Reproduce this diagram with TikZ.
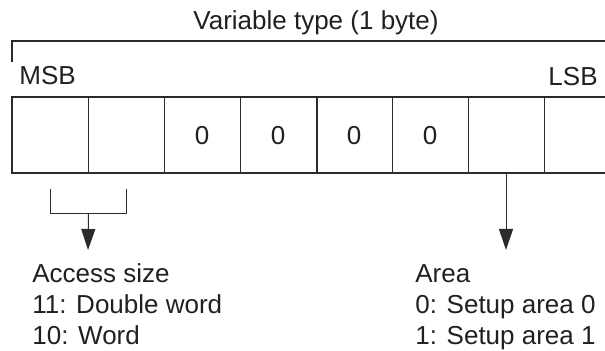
\documentclass[tikz,border=0pt]{standalone}
\usepackage{fontspec}
\setmainfont{Liberation Sans}
\usetikzlibrary{arrows.meta}
\definecolor{inkgray}{RGB}{35,31,32}
\definecolor{linegray}{RGB}{40,44,44}
\tikzset{
  bitcell/.style={draw=linegray,line width=0.5pt,minimum width=38pt,minimum height=37.5pt,inner sep=0pt,text=inkgray,font=\fontsize{13}{15.5}\selectfont},
  lbl/.style={inner sep=0pt,text=inkgray,font=\fontsize{13}{15.5}\selectfont},
  pointer/.style={draw=linegray,line width=0.5pt,-{Triangle[length=10.5pt,width=7pt]}}
}
\begin{document}
\begin{tikzpicture}[x=0.5pt,y=-0.5pt]
\useasboundingbox (0,0) rectangle (605,351);
\clip (0,0) rectangle (605,351);
% header
\node[lbl,anchor=base] (title) at (316,30) {Variable type (1 byte)};
\draw[linegray,line width=0.75pt] (12,62) -- (12,41) -- (620,41);
\node[lbl,anchor=base west] (msb) at (19,85) {MSB};
\node[lbl,anchor=base east] (lsb) at (598,86) {LSB};
% the eight bits
\foreach \i/\v in {1/,2/,3/0,4/0,5/0,6/0,7/,8/}
  \node[bitcell] (b\i) at (50+76*\i-76,135.5) {\v};
\draw[linegray,line width=1pt] (b1.north west) rectangle (b8.south east);
\draw[linegray,line width=1pt] (b4.north east) -- (b4.south east);
% access size
\draw[linegray,line width=0.5pt] ([yshift=-8pt]b1.south) -- ([yshift=-20pt]b1.south)
  -- ([yshift=-20pt]b2.south) -- ([yshift=-8pt]b2.south);
\coordinate (acc) at ([yshift=-20pt]b1.south east);
\coordinate (accTip) at (88,250);
\draw[pointer] (acc) -- (accTip);
\node[lbl,anchor=base west] (acc1) at (32,283) {Access size};
\node[lbl,anchor=base west] (acc2) at (32,314) {11: Double word};
\node[lbl,anchor=base west] (acc3) at (32,345) {10: Word};
% area
\coordinate (areaTip) at (506,250);
\draw[pointer] (b7.south) -- (areaTip);
\node[lbl,anchor=base west] (area1) at (415,283) {Area};
\node[lbl,anchor=base west] (area2) at (415,314) {0: Setup area 0};
\node[lbl,anchor=base west] (area3) at (415,345) {1: Setup area 1};
\end{tikzpicture}
\end{document}
